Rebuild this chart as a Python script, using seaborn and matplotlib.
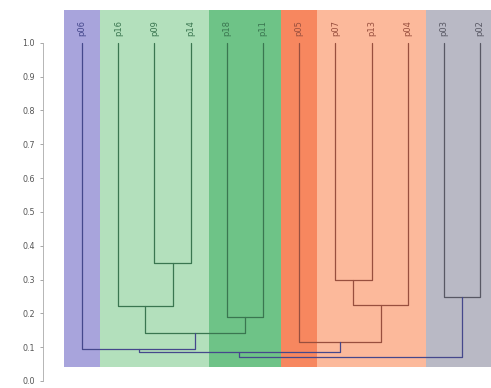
import numpy as np
import matplotlib
matplotlib.use("Agg")
import matplotlib.pyplot as plt
import seaborn as sns

# leaves, left to right
leaf_labels = ["p06", "p16", "p09", "p14", "p18", "p11", "p05", "p07", "p13", "p04", "p03", "p02"]
leaf_group = [0, 1, 1, 1, 2, 2, 3, 4, 4, 4, 5, 5]

# merges: (child a, child b, similarity); ids >= 12 are earlier merges
merge_a = [2, 1, 4, 13, 0, 7, 17, 6, 16, 10, 20]
merge_b = [3, 12, 5, 14, 15, 8, 9, 18, 19, 11, 21]
merge_h = [0.35, 0.222, 0.19, 0.142, 0.095, 0.30, 0.225, 0.116, 0.086, 0.248, 0.071]

span_colors = ["#a8a4dc", "#b3e0bc", "#6ec387", "#f7875f", "#fcb99b", "#b9b9c5"]
line_colors = ["#45488c", "#3a7650", "#3a7650", "#984f3e", "#984f3e", "#585864"]
root_color = "#45488c"

sns.set_style("ticks")
fig = plt.figure(figsize=(4.91, 3.88), dpi=100)
ax = fig.add_axes([43 / 491, 7 / 388, 448 / 491, 371 / 388])

n = len(leaf_labels)
xs = {i: 5 + 10 * i for i in range(n)}
hs = {i: 1.0 for i in range(n)}
grp = {i: leaf_group[i] for i in range(n)}

# background bands per group
for g, c in enumerate(span_colors):
    idx = [i for i in range(n) if leaf_group[i] == g]
    ax.axvspan(xs[idx[0]] - 5, xs[idx[-1]] + 5, ymin=0.038, ymax=1, color=c, lw=0, zorder=0)

for k, (a, b, h) in enumerate(zip(merge_a, merge_b, merge_h)):
    node = n + k
    ga, gb = grp[a], grp[b]
    same = ga == gb or {ga, gb} in ({1, 2}, {3, 4})
    col = line_colors[ga] if same else root_color
    ax.plot([xs[a], xs[a], xs[b], xs[b]], [hs[a], h, h, hs[b]], color=col, lw=0.9, zorder=2)
    xs[node] = (xs[a] + xs[b]) / 2
    hs[node] = h
    grp[node] = min(ga, gb) if same else -1

for i, lab in enumerate(leaf_labels):
    ax.text(xs[i], 1.045, lab, rotation=90, ha="center", va="center",
            fontsize=6, color=line_colors[leaf_group[i]], zorder=3)

ax.set_xlim(-5.8, 118)
ax.set_ylim(0, 1.097)
ax.set_yticks(np.arange(0, 1.01, 0.1))
ax.set_yticklabels([f"{v:.1f}" for v in np.arange(0, 1.01, 0.1)])
ax.set_xticks([])
ax.tick_params(axis="y", labelsize=5.8, labelcolor="#555555", color="#999999", length=2.5, width=0.6)
sns.despine(ax=ax, bottom=True)
ax.spines["left"].set_bounds(0, 1.0)
ax.spines["left"].set_color("#aaaaaa")
ax.spines["left"].set_linewidth(0.6)

fig.savefig("out.png", dpi=100)
